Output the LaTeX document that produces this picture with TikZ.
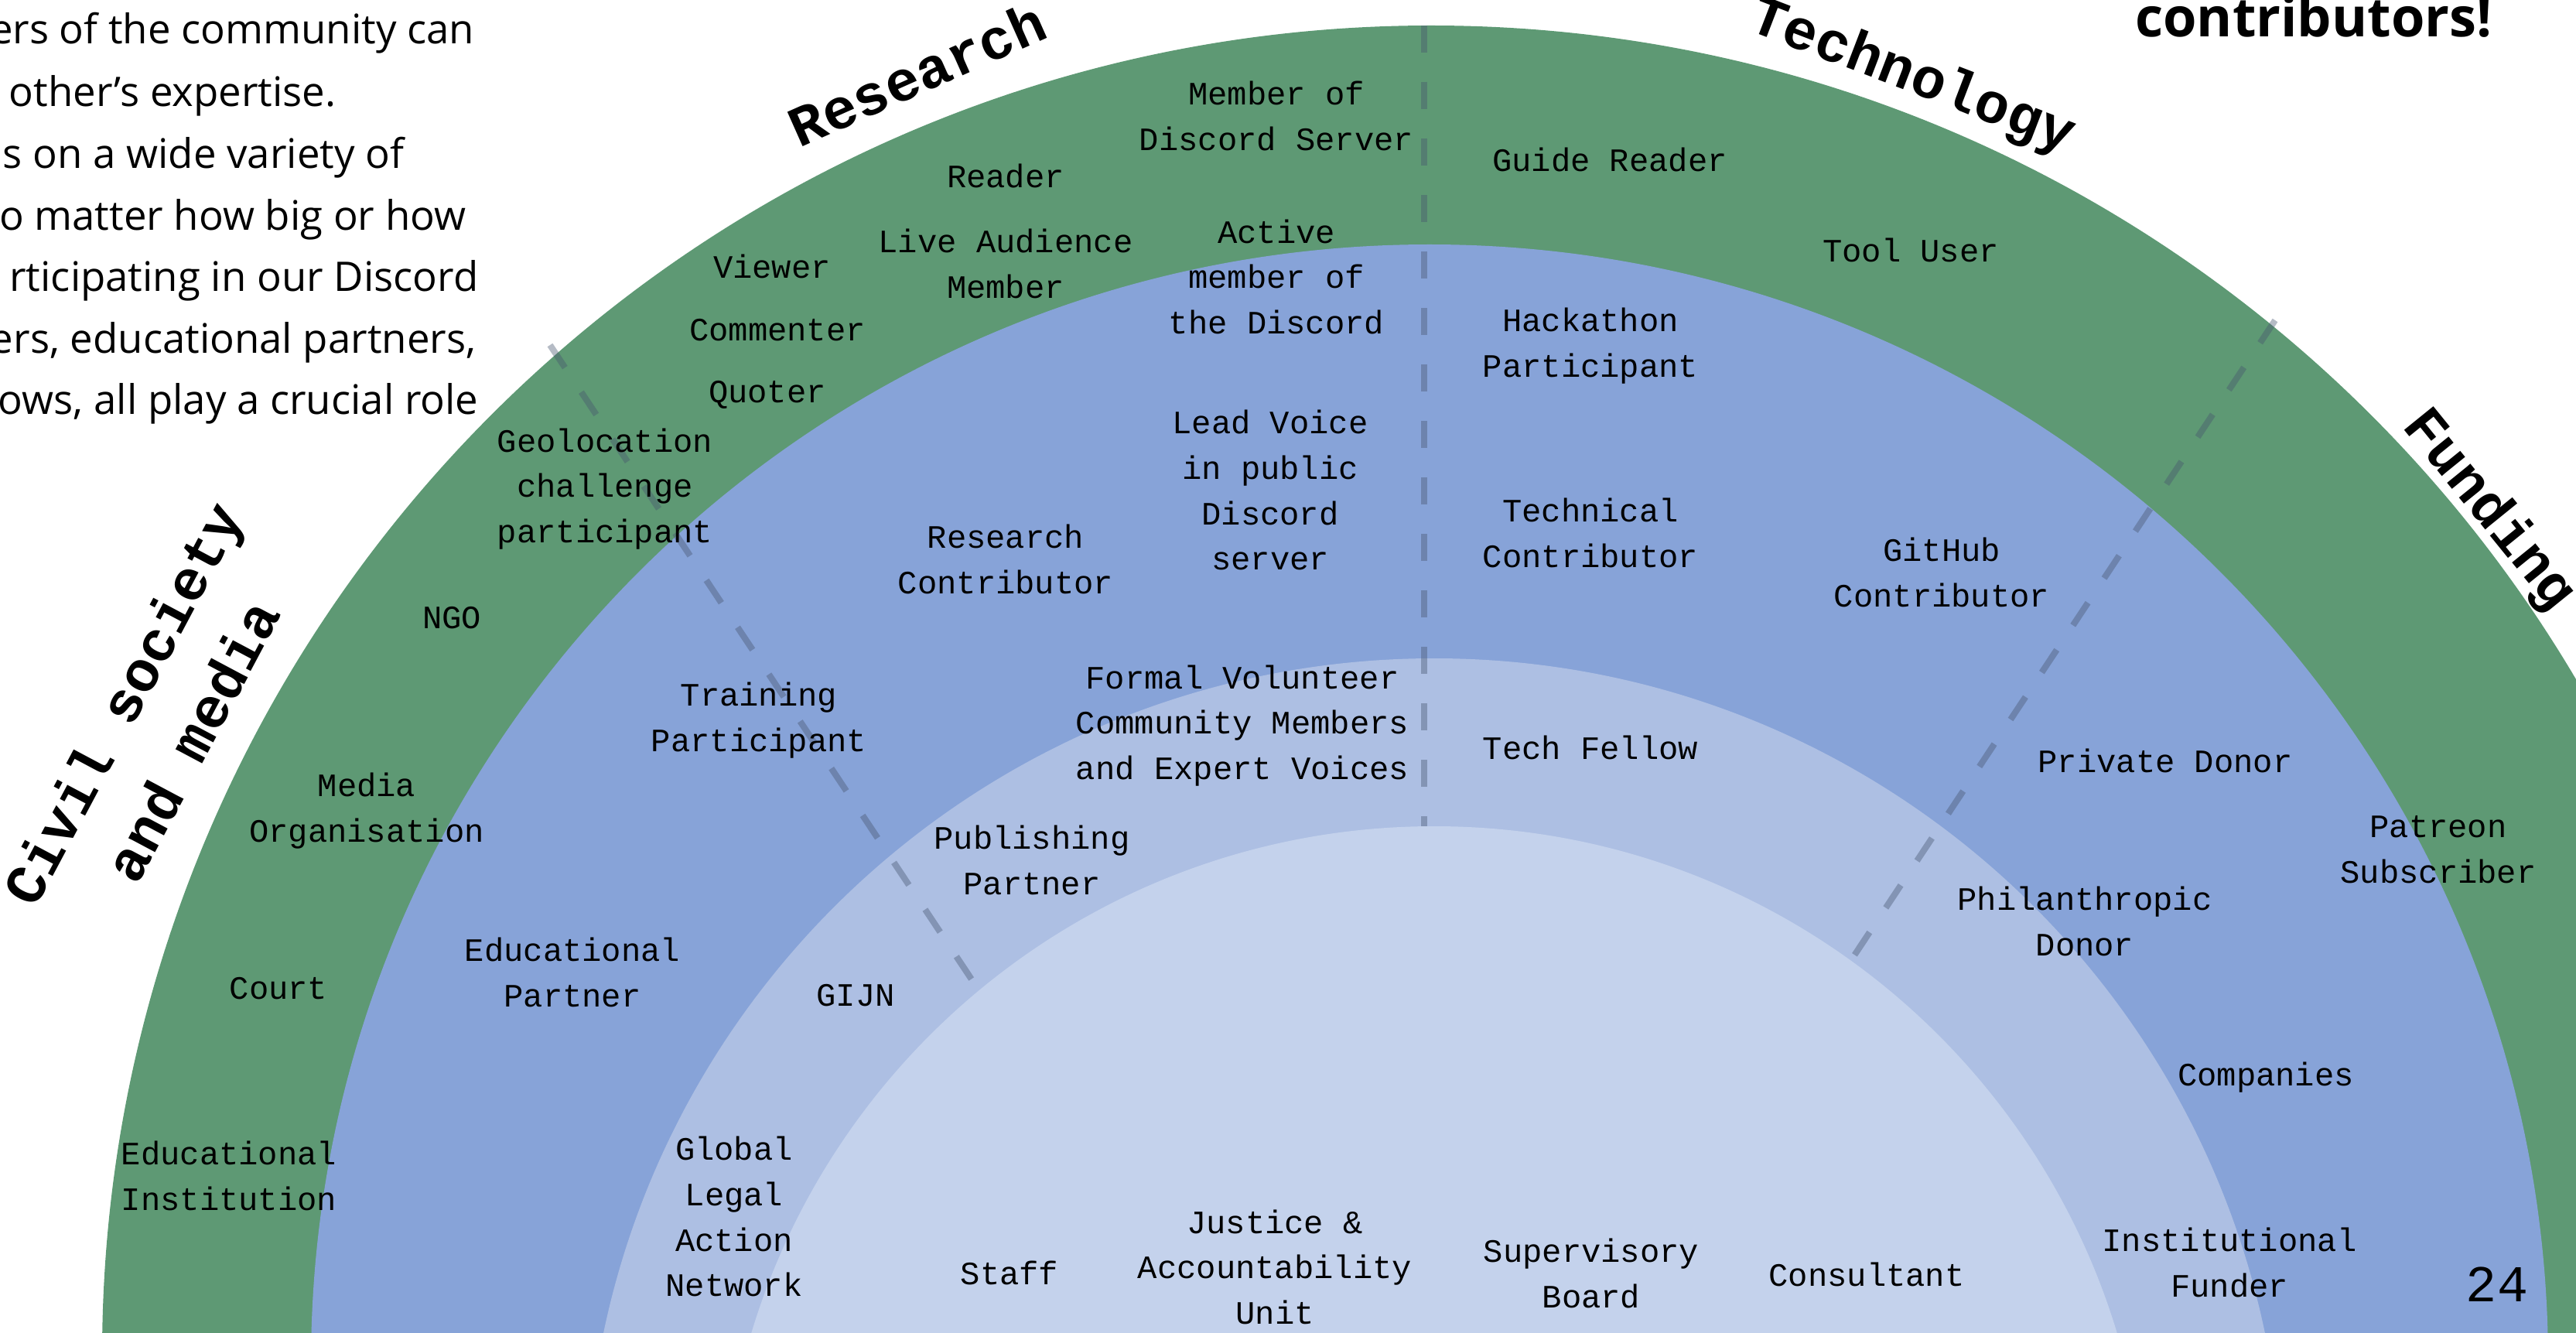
\documentclass[tikz,border=0pt]{standalone}
\usepackage{fontspec}
\setmonofont{Liberation Mono}
\newfontfamily\introfont{Open Sans}
\definecolor{ringgreen}{RGB}{94,153,116}
\definecolor{ringblue}{RGB}{135,163,216}
\definecolor{ringpale}{RGB}{173,191,227}
\definecolor{ringcore}{RGB}{196,210,236}
\definecolor{divgray}{RGB}{70,85,110}

\begin{document}
\begin{tikzpicture}[
    greenring/.style={circle,fill=ringgreen,inner sep=0pt,minimum size=34.36cm},
    bluering/.style={circle,fill=ringblue,inner sep=0pt,minimum size=28.92cm},
    palering/.style={circle,fill=ringpale,inner sep=0pt,minimum size=21.94cm},
    corering/.style={circle,fill=ringcore,inner sep=0pt,minimum size=18.44cm},
    role/.style={font={\fontsize{12}{16.7}\selectfont\ttfamily},inner sep=0pt},
    sector/.style={font={\fontsize{21}{29}\selectfont\ttfamily\bfseries},inner sep=0pt},
    intro/.style={font={\fontsize{15}{22.7}\selectfont\introfont},anchor=base east,inner sep=0pt},
    divider/.style={draw=divgray,draw opacity=0.4,line width=2.3pt,dash pattern=on 0.35cm off 0.38cm}
    ]

    \useasboundingbox (0,0) rectangle (33.30,17.22);
    \clip (0,0) rectangle (33.30,17.22);

    % rings
    \node(outer) [greenring] at (18.50,-0.29) {};
    \node(middle) [bluering] at (18.48,-0.40) {};
    \node(inner) [palering] at (18.54,-2.26) {};
    \node(core) [corering] at (18.54,-2.68) {};

    % dividers
    \coordinate(div_mid_top) at (18.41,16.89);
    \coordinate(div_mid_bot) at (18.41,6.54);
    \coordinate(div_left_top) at (7.11,12.76);
    \coordinate(div_left_bot) at (12.70,4.35);
    \coordinate(div_right_top) at (29.41,13.08);
    \coordinate(div_right_bot) at (23.89,4.75);
    \draw [divider] (div_mid_top) -- (div_mid_bot);
    \draw [divider] (div_left_top) -- (div_left_bot);
    \draw [divider] (div_right_top) -- (div_right_bot);

    % sectors
    \node(res_title) [sector,rotate=24] at (11.85,16.27) {Research};
    \node(tech_title) [sector,rotate=-21] at (24.72,16.22) {Technology};
    \node(fund_title) [sector,rotate=-51] at (32.17,10.62) {Funding};
    \node(civ_title) [sector,rotate=62] at (2.08,7.86) {
      \begin{tabular}{c}
        Civil society\\
        and media\\
      \end{tabular}
    };

    % outer ring
    \node(member_server) [role] at (16.50,15.69) {
      \begin{tabular}{c}
        Member of\\
        Discord Server\\
      \end{tabular}
    };
    \node(reader) [role] at (13.00,14.95) {Reader};
    \node(live_audience) [role] at (13.00,13.78) {
      \begin{tabular}{c}
        Live Audience\\
        Member\\
      \end{tabular}
    };
    \node(viewer) [role] at (9.98,13.78) {Viewer};
    \node(commenter) [role] at (10.05,12.95) {Commenter};
    \node(quoter) [role] at (9.92,12.12) {Quoter};
    \node(geolocation) [role] at (7.82,10.91) {
      \begin{tabular}{c}
        Geolocation\\
        challenge\\
        participant\\
      \end{tabular}
    };
    \node(ngo) [role] at (5.84,9.23) {NGO};
    \node(media_org) [role] at (4.74,6.75) {
      \begin{tabular}{c}
        Media\\
        Organisation\\
      \end{tabular}
    };
    \node(court) [role] at (3.60,4.44) {Court};
    \node(edu_inst) [role] at (2.96,1.99) {
      \begin{tabular}{c}
        Educational\\
        Institution\\
      \end{tabular}
    };
    \node(guide_reader) [role] at (20.81,15.16) {Guide Reader};
    \node(tool_user) [role] at (24.70,13.99) {Tool User};
    \node(patreon) [role] at (31.52,6.22) {
      \begin{tabular}{c}
        Patreon\\
        Subscriber\\
      \end{tabular}
    };

    % second ring
    \node(active_member) [role] at (16.50,13.61) {
      \begin{tabular}{c}
        Active\\
        member of\\
        the Discord\\
      \end{tabular}
    };
    \node(lead_voice) [role] at (16.42,10.85) {
      \begin{tabular}{c}
        Lead Voice\\
        in public\\
        Discord\\
        server\\
      \end{tabular}
    };
    \node(research_contrib) [role] at (13.00,9.96) {
      \begin{tabular}{c}
        Research\\
        Contributor\\
      \end{tabular}
    };
    \node(training) [role] at (9.81,7.92) {
      \begin{tabular}{c}
        Training\\
        Participant\\
      \end{tabular}
    };
    \node(edu_partner) [role] at (7.40,4.62) {
      \begin{tabular}{c}
        Educational\\
        Partner\\
      \end{tabular}
    };
    \node(hackathon) [role] at (20.56,12.76) {
      \begin{tabular}{c}
        Hackathon\\
        Participant\\
      \end{tabular}
    };
    \node(tech_contrib) [role] at (20.56,10.30) {
      \begin{tabular}{c}
        Technical\\
        Contributor\\
      \end{tabular}
    };
    \node(github) [role] at (25.10,9.79) {
      \begin{tabular}{c}
        GitHub\\
        Contributor\\
      \end{tabular}
    };
    \node(private_donor) [role] at (27.99,7.39) {Private Donor};
    \node(companies) [role] at (29.29,3.29) {Companies};
    \node(inst_funder) [role] at (28.82,0.87) {
      \begin{tabular}{c}
        Institutional\\
        Funder\\
      \end{tabular}
    };

    % third ring
    \node(formal_vol) [role] at (16.06,7.85) {
      \begin{tabular}{c}
        Formal Volunteer\\
        Community Members\\
        and Expert Voices\\
      \end{tabular}
    };
    \node(tech_fellow) [role] at (20.56,7.56) {Tech Fellow};
    \node(publishing) [role] at (13.34,6.07) {
      \begin{tabular}{c}
        Publishing\\
        Partner\\
      \end{tabular}
    };
    \node(gijn) [role] at (11.06,4.35) {GIJN};
    \node(philanthropic) [role] at (26.95,5.28) {
      \begin{tabular}{c}
        Philanthropic\\
        Donor\\
      \end{tabular}
    };
    \node(glan) [role] at (9.49,1.46) {
      \begin{tabular}{c}
        Global\\
        Legal\\
        Action\\
        Network\\
      \end{tabular}
    };

    % core
    \node(staff) [role] at (13.05,0.77) {Staff};
    \node(jau) [role] at (16.48,0.81) {
      \begin{tabular}{c}
        Justice \&\\
        Accountability\\
        Unit\\
      \end{tabular}
    };
    \node(supervisory) [role] at (20.57,0.73) {
      \begin{tabular}{c}
        Supervisory\\
        Board\\
      \end{tabular}
    };
    \node(consultant) [role] at (24.13,0.75) {Consultant};

    % page text
    \node(intro_a) [intro] at (6.14,16.65) {ers of the community can};
    \node(intro_b) [intro] at (4.35,15.84) {other’s expertise.};
    \node(intro_c) [intro] at (5.23,15.04) {s on a wide variety of};
    \node(intro_d) [intro] at (6.03,14.24) {o matter how big or how};
    \node(intro_e) [intro] at (6.19,13.45) {rticipating in our Discord};
    \node(intro_f) [intro] at (6.16,12.65) {ers, educational partners,};
    \node(intro_g) [intro] at (6.19,11.86) {ows, all play a crucial role};
    \node(headline) [anchor=base,inner sep=0pt,font={\fontsize{20}{24}\selectfont\introfont\bfseries}] at (29.91,16.74) {contributors!};
    \node(page_no) [anchor=base,inner sep=0pt,font={\fontsize{19}{22}\selectfont\ttfamily}] at (32.28,0.40) {24};

  \end{tikzpicture}
\end{document}
